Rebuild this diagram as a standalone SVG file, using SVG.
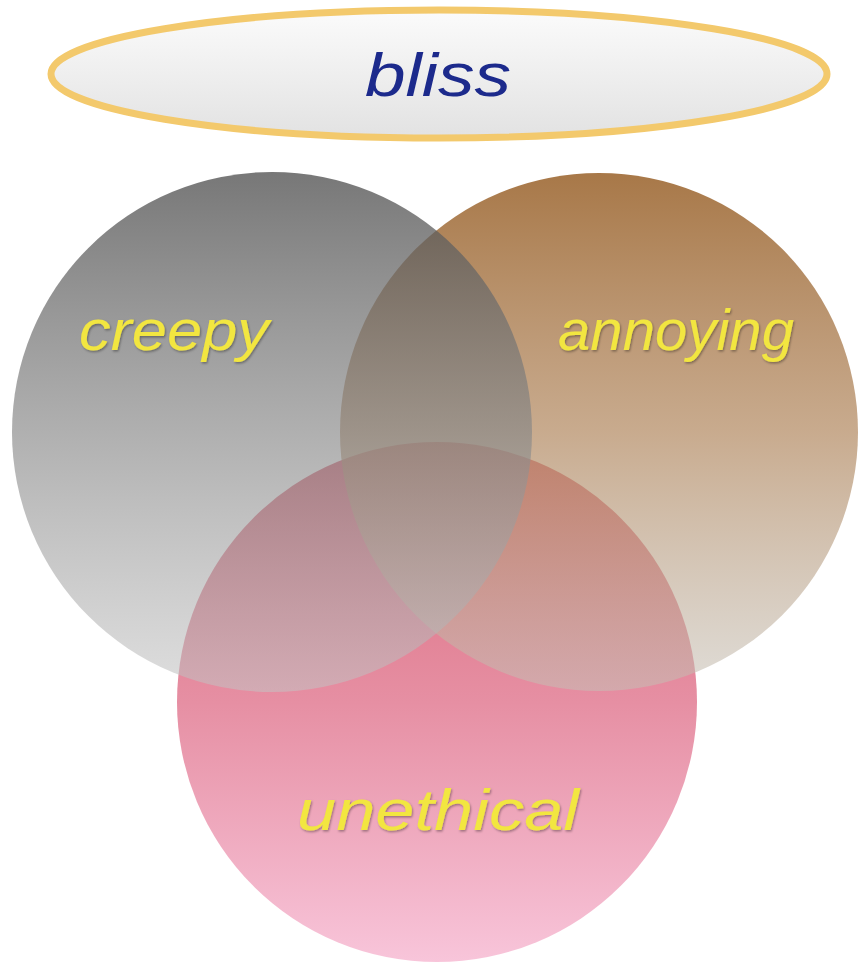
<svg xmlns="http://www.w3.org/2000/svg" width="858" height="964" viewBox="0 0 858 964">
<defs>
<linearGradient id="gBliss" x1="0" y1="0" x2="0" y2="1"><stop offset="0" stop-color="#fbfbfb"/><stop offset="1" stop-color="#e2e2e2"/></linearGradient>
<linearGradient id="gCreepy" x1="0" y1="0" x2="0" y2="1"><stop offset="0" stop-color="#515151" stop-opacity="0.78"/><stop offset="0.5" stop-color="#878787" stop-opacity="0.66"/><stop offset="1" stop-color="#c3c3c3" stop-opacity="0.55"/></linearGradient>
<linearGradient id="gAnnoy" x1="0" y1="0" x2="0" y2="1"><stop offset="0" stop-color="#a06c38" stop-opacity="0.92"/><stop offset="0.5" stop-color="#b38a62" stop-opacity="0.72"/><stop offset="1" stop-color="#c5bfb5" stop-opacity="0.55"/></linearGradient>
<linearGradient id="gUneth" x1="0" y1="0" x2="0" y2="1"><stop offset="0" stop-color="#d96677"/><stop offset="0.5" stop-color="#e68fa3"/><stop offset="1" stop-color="#f8c5da"/></linearGradient>
<filter id="sh" x="-10%" y="-20%" width="120%" height="140%"><feDropShadow dx="1" dy="1.5" stdDeviation="1" flood-color="#000" flood-opacity="0.35"/></filter>
</defs>
<style>
.lbl{font-family:"Liberation Sans","DejaVu Sans",sans-serif;font-style:italic;font-size:58px;fill:#f2e640;filter:url(#sh)}
</style>
<rect width="858" height="964" fill="#ffffff"/>
<g id="bliss">
<ellipse cx="439" cy="74" rx="388" ry="64" fill="url(#gBliss)" stroke="#f3c96c" stroke-width="7"/>
<text x="438" y="96" text-anchor="middle" font-family="'Liberation Sans','DejaVu Sans',sans-serif" font-style="italic" font-size="62" fill="#1c2a8c" textLength="146" lengthAdjust="spacingAndGlyphs">bliss</text>
</g>
<g id="unethical">
<circle cx="437" cy="702" r="260" fill="url(#gUneth)"/>
</g>
<g id="annoying">
<circle cx="599" cy="432" r="259" fill="url(#gAnnoy)"/>
</g>
<g id="creepy">
<circle cx="272" cy="432" r="260" fill="url(#gCreepy)"/>
</g>
<g id="labels">
<text class="lbl" x="174" y="350" text-anchor="middle" textLength="190" lengthAdjust="spacingAndGlyphs">creepy</text>
<text class="lbl" x="676" y="350" text-anchor="middle" textLength="236" lengthAdjust="spacingAndGlyphs">annoying</text>
<text class="lbl" x="438" y="830" text-anchor="middle" textLength="282" lengthAdjust="spacingAndGlyphs">unethical</text>
</g>
</svg>
